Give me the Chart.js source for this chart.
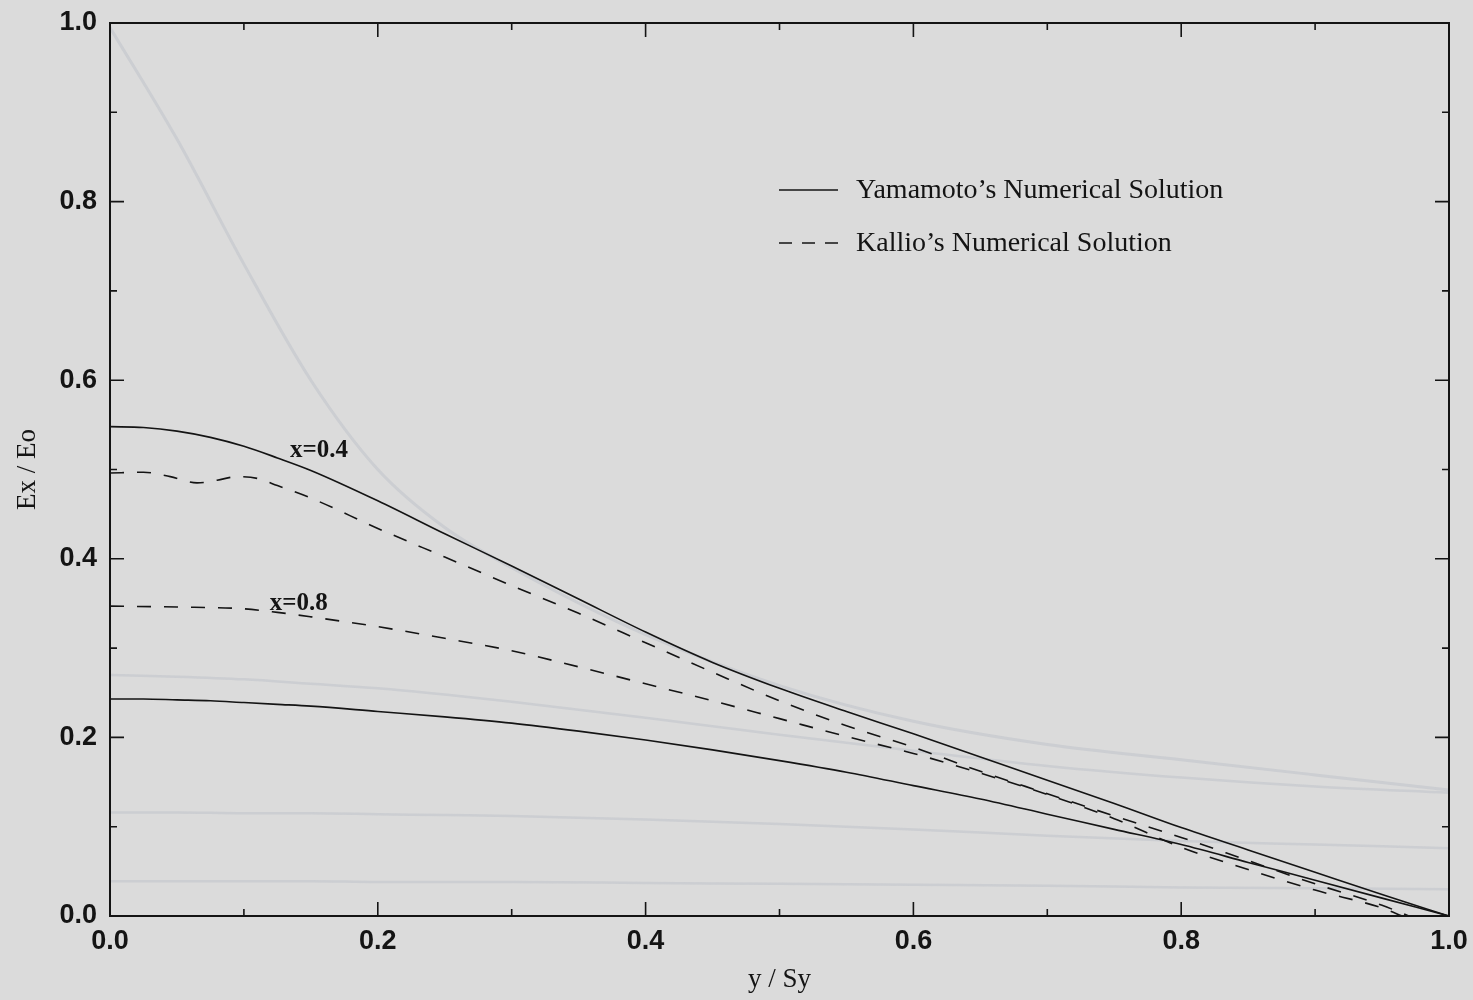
<!DOCTYPE html>
<html>
<head>
<meta charset="utf-8">
<script src="https://cdn.jsdelivr.net/npm/chart.js@4.4.1/dist/chart.umd.min.js"></script>
<style>
  html, body { margin: 0; padding: 0; background: #dbdbdb; }
  #wrap { width: 1473px; height: 1000px; position: relative; }
</style>
</head>
<body>
<div id="wrap"><canvas id="chart"></canvas></div>
<script>
// y / Sy positions and Ex / Eo values
const yamamotoX = [0, 0.025, 0.05, 0.075, 0.1, 0.125, 0.15, 0.2, 0.25, 0.3, 0.35, 0.4, 0.45, 0.5, 0.55, 0.6, 0.65, 0.7, 0.75, 0.8, 0.85, 0.9, 0.95, 1.0];
const yamamoto04 = [0.548, 0.547, 0.543, 0.536, 0.526, 0.513, 0.499, 0.465, 0.428, 0.392, 0.355, 0.318, 0.284, 0.255, 0.229, 0.204, 0.178, 0.152, 0.126, 0.099, 0.074, 0.049, 0.024, 0];
const yamamoto08 = [0.243, 0.243, 0.242, 0.241, 0.239, 0.237, 0.235, 0.229, 0.223, 0.216, 0.207, 0.197, 0.186, 0.174, 0.161, 0.146, 0.131, 0.114, 0.097, 0.08, 0.06, 0.04, 0.02, 0];

const kallio04X = [0, 0.025, 0.045, 0.065, 0.08, 0.095, 0.11, 0.125, 0.15, 0.2, 0.25, 0.3, 0.35, 0.4, 0.45, 0.5, 0.55, 0.6, 0.65, 0.7, 0.75, 0.8, 0.85, 0.9, 0.95, 0.97];
const kallio04 = [0.496, 0.497, 0.492, 0.485, 0.488, 0.492, 0.49, 0.482, 0.468, 0.434, 0.402, 0.37, 0.339, 0.306, 0.273, 0.241, 0.213, 0.189, 0.162, 0.137, 0.112, 0.088, 0.062, 0.036, 0.012, 0];

const kallio08X = [0, 0.05, 0.1, 0.125, 0.15, 0.2, 0.25, 0.3, 0.35, 0.4, 0.45, 0.5, 0.55, 0.6, 0.65, 0.7, 0.75, 0.8, 0.85, 0.9, 0.95, 0.965];
const kallio08 = [0.347, 0.346, 0.344, 0.34, 0.335, 0.324, 0.311, 0.297, 0.279, 0.26, 0.241, 0.221, 0.201, 0.182, 0.16, 0.136, 0.109, 0.077, 0.052, 0.029, 0.009, 0];

// faint curves showing through from the back of the page
const ghostX = [0, 0.05, 0.1, 0.15, 0.2, 0.25, 0.3, 0.4, 0.5, 0.6, 0.7, 0.8, 0.9, 1.0];
const ghost00 = [0.995, 0.87, 0.73, 0.6, 0.5, 0.435, 0.39, 0.315, 0.258, 0.218, 0.192, 0.175, 0.158, 0.141];
const ghost04 = [0.27, 0.268, 0.265, 0.26, 0.255, 0.248, 0.24, 0.222, 0.203, 0.185, 0.168, 0.155, 0.145, 0.138];
const ghost08 = [0.116, 0.116, 0.115, 0.115, 0.114, 0.113, 0.112, 0.108, 0.103, 0.097, 0.09, 0.084, 0.08, 0.076];
const ghost16 = [0.039, 0.039, 0.039, 0.039, 0.038, 0.038, 0.038, 0.037, 0.036, 0.035, 0.034, 0.032, 0.031, 0.03];

const xTicks = [0, 0.2, 0.4, 0.6, 0.8, 1.0];
const yTicks = [0, 0.2, 0.4, 0.6, 0.8, 1.0];
const legendLabels = ["Yamamoto\u2019s Numerical Solution", "Kallio\u2019s Numerical Solution"];
const curveLabels = [
    { text: "x=0.4", x: 0.156, y: 0.521 },
    { text: "x=0.8", x: 0.141, y: 0.350 }
];

const INK = "#141414";
const pts = (xs, ys) => xs.map((x, i) => ({ x: x, y: ys[i] }));

function line(data, dashed) {
    return {
        data: data,
        borderColor: INK,
        borderWidth: 1.6,
        borderDash: dashed ? [14, 13] : [],
        pointRadius: 0,
        fill: false,
        cubicInterpolationMode: "monotone"
    };
}
function ghost(data, width) {
    return {
        data: data,
        borderColor: "rgba(150,160,178,0.22)",
        borderWidth: width,
        pointRadius: 0,
        fill: false,
        cubicInterpolationMode: "monotone"
    };
}

const paperPlugin = {
    id: "paper",
    beforeDraw(chart) {
        const ctx = chart.ctx;
        ctx.save();
        ctx.fillStyle = "#dbdbdb";
        ctx.fillRect(0, 0, chart.width, chart.height);
        ctx.restore();
    }
};

// frame, inward ticks, legend and curve labels
const decorPlugin = {
    id: "decor",
    afterDraw(chart) {
        const ctx = chart.ctx;
        const { left, right, top, bottom } = chart.chartArea;
        const xs = chart.scales.x, ys = chart.scales.y;
        ctx.save();
        ctx.strokeStyle = INK;
        ctx.lineWidth = 2;
        ctx.setLineDash([]);
        ctx.strokeRect(left, top, right - left, bottom - top);

        ctx.lineWidth = 1.6;
        for (let i = 0; i <= 10; i++) {
            const v = i / 10;
            const len = i % 2 === 0 ? 14 : 7;
            const px = xs.getPixelForValue(v);
            const py = ys.getPixelForValue(v);
            ctx.beginPath();
            ctx.moveTo(px, bottom); ctx.lineTo(px, bottom - len);
            ctx.moveTo(px, top); ctx.lineTo(px, top + len);
            ctx.moveTo(left, py); ctx.lineTo(left + len, py);
            ctx.moveTo(right, py); ctx.lineTo(right - len, py);
            ctx.stroke();
        }

        // legend
        const lx = 779, ly = 190;
        ctx.fillStyle = INK;
        ctx.font = "28px 'Liberation Serif', 'Times New Roman', serif";
        ctx.textBaseline = "middle";
        ctx.textAlign = "left";
        ctx.beginPath();
        ctx.moveTo(lx, ly); ctx.lineTo(lx + 59, ly);
        ctx.stroke();
        ctx.fillText(legendLabels[0], lx + 77, ly + 1);
        ctx.setLineDash([13, 10]);
        ctx.beginPath();
        ctx.moveTo(lx, ly + 53); ctx.lineTo(lx + 59, ly + 53);
        ctx.stroke();
        ctx.setLineDash([]);
        ctx.fillText(legendLabels[1], lx + 77, ly + 54);

        // curve labels
        ctx.font = "bold 25px 'Liberation Serif', 'Times New Roman', serif";
        ctx.textAlign = "center";
        curveLabels.forEach(l => {
            ctx.fillText(l.text, xs.getPixelForValue(l.x), ys.getPixelForValue(l.y));
        });
        ctx.restore();
    }
};

const tickFont = { family: "'Liberation Sans', Arial, sans-serif", size: 27, weight: "bold" };
const titleFont = { family: "'Liberation Serif', 'Times New Roman', serif", size: 27 };

new Chart(document.getElementById("chart"), {
    type: "line",
    data: {
        datasets: [
            line(pts(yamamotoX, yamamoto04), false),
            line(pts(yamamotoX, yamamoto08), false),
            line(pts(kallio04X, kallio04), true),
            line(pts(kallio08X, kallio08), true),
            ghost(pts(ghostX, ghost00), 3),
            ghost(pts(ghostX, ghost04), 2.5),
            ghost(pts(ghostX, ghost08), 2.5),
            ghost(pts(ghostX, ghost16), 2.5)
        ]
    },
    options: {
        responsive: true,
        maintainAspectRatio: false,
        animation: false,
        layout: { padding: { left: 0, top: 23, right: 24, bottom: 0 } },
        plugins: { legend: { display: false }, tooltip: { enabled: false } },
        scales: {
            x: {
                type: "linear",
                min: 0, max: 1,
                afterBuildTicks: s => { s.ticks = xTicks.map(v => ({ value: v })); },
                afterFit: s => { s.height = 84; s.paddingLeft = 0; s.paddingRight = 0; },
                grid: { display: false, drawTicks: false },
                border: { display: false },
                ticks: { color: INK, font: tickFont, padding: 9, maxRotation: 0, callback: v => v.toFixed(1) },
                title: { display: true, text: "y / Sy", color: INK, font: titleFont, padding: { top: 0, bottom: 4 } }
            },
            y: {
                type: "linear",
                min: 0, max: 1,
                afterBuildTicks: s => { s.ticks = yTicks.map(v => ({ value: v })); },
                afterFit: s => { s.width = 110; s.paddingTop = 0; s.paddingBottom = 0; },
                grid: { display: false, drawTicks: false },
                border: { display: false },
                ticks: { color: INK, font: tickFont, padding: 13, callback: v => v.toFixed(1) },
                title: { display: true, text: "Ex / Eo", color: INK, font: titleFont, padding: { top: 12, bottom: 0 } }
            }
        }
    },
    plugins: [paperPlugin, decorPlugin]
});
</script>
</body>
</html>
